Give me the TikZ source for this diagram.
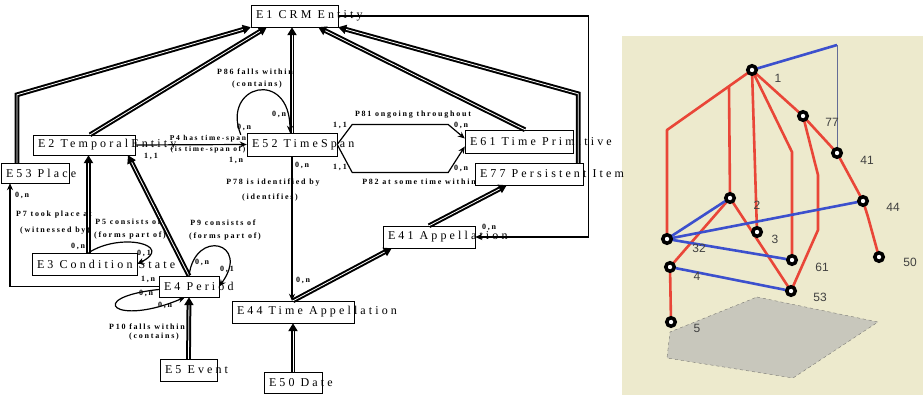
\documentclass[tikz,border=0pt]{standalone}
\usepackage{fontspec}
\setmainfont{Liberation Serif}
\newfontfamily\entfont[LetterSpace=26]{Liberation Serif}
\newfontfamily\crdfont[LetterSpace=22]{Liberation Serif}
\newfontfamily\numfont{Liberation Sans}
\usetikzlibrary{arrows.meta}
\pgfdeclarelayer{background}
\pgfsetlayers{background,main}

\definecolor{panel}{RGB}{237,234,205}
\definecolor{plane}{RGB}{200,199,188}
\definecolor{redline}{RGB}{233,70,56}
\definecolor{blueline}{RGB}{60,80,205}
\definecolor{stemline}{RGB}{100,108,150}
\newcommand{\ent}[2]{\makebox[#1][l]{#2}}

\begin{document}
\begin{tikzpicture}[x=1pt,y=-1pt,
  entity/.style={rectangle,draw,thin,inner xsep=5pt,inner ysep=0pt,minimum height=22pt,font=\entfont\fontsize{12}{13}\selectfont},
  isa/.style={double,line width=2pt,double distance=0.8pt,-{Triangle[length=8pt,width=9pt]}},
  prop/.style={line width=1.2pt,-{Stealth[length=7pt,width=6pt]}},
  card/.style={inner sep=0pt,font=\crdfont\bfseries\fontsize{8}{9}\selectfont},
  vert/.style={circle,draw=black,line width=3.5pt,fill=white,minimum size=8.5pt,inner sep=0pt},
  num/.style={inner sep=0pt,text=black!75,font=\numfont\fontsize{12}{13}\selectfont},
  redl/.style={redline,line width=2.6pt,line join=round},
  bluel/.style={blueline,line width=2.6pt}]
\useasboundingbox (0,0) rectangle (923,395);

% entities
\node[entity] (e1) at (294.5,16) {\ent{77pt}{E1 CRM Entity}};
\node[entity,minimum height=20pt] (e53) at (35,173) {\ent{58pt}{E53 Place}};
\node[entity,minimum height=20pt] (e2) at (84,145) {\ent{92pt}{E2 TemporalEntity}};
\node[entity,minimum height=23pt] (e52) at (292,144.5) {\ent{80pt}{E52 TimeSpan}};
\node[entity,minimum height=23pt] (e61) at (519,141.5) {\ent{98pt}{E61 Time Primitive}};
\node[entity] (e77) at (529,174) {\ent{98pt}{E77 Persistent Item}};
\node[entity] (e41) at (429,237) {\ent{82pt}{E41 Appellation}};
\node[entity] (e44) at (293,312) {\ent{112pt}{E44 Time Appellation}};
\node[entity,minimum height=21pt] (e50) at (293,382.5) {\ent{48pt}{E50 Date}};
\node[entity] (e5) at (188.5,370) {\ent{47pt}{E5 Event}};
\node[entity,minimum height=21pt] (e4) at (189,286.5) {\ent{50pt}{E4 Period}};
\node[entity] (e3) at (84.5,264) {\ent{95pt}{E3 Condition State}};

% is-a links
\draw[isa] ([xshift=-18pt]e53.north) -- ++(0,-68) -- (e1.south west);
\draw[isa] ([xshift=6pt]e2.north) -- ([xshift=16pt]e1.south west);
\draw[isa] (e52.north) -- (e52.north |- e1.south);
\draw[isa] ([xshift=6pt]e61.north) -- ([xshift=-20pt]e1.south east);
\draw[isa] ([xshift=-5pt]e77.north east) -- ++(0,-69) -- (e1.south east);
\draw[isa] (e4.north) -- ([xshift=44pt]e2.south);
\draw[isa] ([xshift=4pt]e3.north) -- ([xshift=4pt]e3.north |- e2.south);
\draw[isa] (e5.north) -- (e4.south);
\draw[isa] (e50.north) -- (e44.south);
\draw[isa] (e44.north) -- ([xshift=9pt]e41.south west);
\draw[isa] (e41.north) -- ([xshift=32pt]e77.south west);

% properties
\draw[prop] (e2.east) -- (e52.west);
\draw[prop] ([xshift=-6pt,yshift=-2pt]e52.north west) .. controls +(-20,-50) and +(0,-65) .. ([xshift=-2pt]e52.north);
\draw[prop] (e52.south) -- (e52.south |- e44.north);
\draw[prop] (e52.east) -- ++(15,-20) -- ++(96,0) -- ([yshift=3pt]e61.west);
\draw[prop] (e52.east) -- ++(15,28) -- ++(96,0) -- ([yshift=-5pt]e61.west);
\draw[prop] (e1.east) -- ++(250,0) |- (e41.east);
\draw[prop] (e4.west) -| ([xshift=-25pt]e53.south);
\draw[prop] ([xshift=4pt]e3.north) .. controls +(32,-21) and +(38,-19) .. (e3.east);
\draw[prop] (e4.north) .. controls +(6,-48) and +(32,-44) .. (e4.east);
\draw[prop] ([yshift=-3pt]e4.west) .. controls +(-75,8) and +(-70,30) .. ([xshift=-4pt]e4.south);

% property labels
\node[card,font=\crdfont\bfseries\fontsize{7.5}{8}\selectfont] (p4a) at (208,139) {P4 has time-span};
\node[card,font=\crdfont\bfseries\fontsize{7.5}{8}\selectfont] (p4b) at (208,150) {(is time-span of)};
\node[card] (p4c) at (151,156) {1,1};
\node[card] (p4d) at (236,160) {1,n};
\node[card] (p86a) at (255,72) {P86 falls within};
\node[card] (p86b) at (257,85) {(contains)};
\node[card] (p86c) at (279,114) {0,n};
\node[card] (p86d) at (244,127) {0,n};
\node[card] (p78a) at (273,183) {P78 is identified by};
\node[card] (p78b) at (270,198) {(identifies)};
\node[card] (p78c) at (302,165) {0,n};
\node[card] (p78d) at (303,280) {0,n};
\node[card] (p81a) at (413,115) {P81 ongoing throughout};
\node[card] (p81b) at (340,125) {1,1};
\node[card] (p81c) at (461,125) {0,n};
\node[card] (p82a) at (419,182) {P82 at some time within};
\node[card] (p82b) at (340,167) {1,1};
\node[card] (p82c) at (461,168) {0,n};
\node[card] (p1a) at (489,227) {0,n};
\node[card] (p7a) at (54,215) {P7 took place at};
\node[card] (p7b) at (55,231) {(witnessed by)};
\node[card] (p7c) at (22,195) {0,n};
\node[card] (p7d) at (148,279) {1,n};
\node[card] (p5a) at (128,222) {P5 consists of};
\node[card] (p5b) at (130,236) {(forms part of)};
\node[card] (p5c) at (78,246) {0,n};
\node[card] (p5d) at (144,253) {0,1};
\node[card] (p9a) at (223,223) {P9 consists of};
\node[card] (p9b) at (225,237) {(forms part of)};
\node[card] (p9c) at (202,262) {0,n};
\node[card] (p9d) at (227,269) {0,1};
\node[card] (p10a) at (147,327) {P10 falls within};
\node[card] (p10b) at (154,337) {(contains)};
\node[card] (p10c) at (146,293) {0,n};
\node[card] (p10d) at (165,305) {0,n};

% 3d view
\node[vert] (v1) at (752,70) {};
\node[vert] (v77) at (803,116) {};
\node[vert] (v41) at (837,153) {};
\node[vert] (v44) at (863,201) {};
\node[vert] (v50) at (879,257) {};
\node[vert] (v2) at (730,198) {};
\node[vert] (v3) at (757,232) {};
\node[vert] (v32) at (667,239) {};
\node[vert] (v61) at (792,260) {};
\node[vert] (v4) at (670,267) {};
\node[vert] (v53) at (791,291) {};
\node[vert] (v5) at (671,322) {};

\node[num] (t1) at (778,78) {1};
\node[num] (t77) at (832,122) {77};
\node[num] (t41) at (867,160) {41};
\node[num] (t44) at (893,207) {44};
\node[num] (t50) at (910,262) {50};
\node[num] (t2) at (757,205) {2};
\node[num] (t3) at (775,239) {3};
\node[num] (t32) at (699,248) {32};
\node[num] (t61) at (822,267) {61};
\node[num] (t4) at (697,276) {4};
\node[num] (t53) at (820,297) {53};
\node[num] (t5) at (697,328) {5};

\begin{pgfonlayer}{background}
\fill[panel] (622,36) rectangle (923,395);
\draw[plane!60!black,dashed,fill=plane,thin] (757,297) -- (878,322) -- (793,378) -- (667,358) -- (670,332) -- cycle;
\draw[redl] (v1.center) -- (667,130) -- (v32.center);
\draw[redl] (729,87) -- (v2.center);
\draw[redl] (v1.center) -- (v3.center);
\draw[redl] (v1.center) -- (792,152) -- (v61.center);
\draw[redl] (v1.center) -- (v77.center) -- (v41.center) -- (v44.center) -- (868,217) -- (v50.center);
\draw[redl] (v77.center) -- (818,175) -- (818,230) -- (v53.center);
\draw[redl] (v2.center) -- (v53.center);
\draw[redl] (v2.center) -- (v4.center) -- (v5.center);
\draw[bluel] (v1.center) -- (837,45);
\draw[stemline,line width=1pt] (837,45) -- (v41.center);
\draw[bluel] (v32.center) -- (v2.center);
\draw[bluel] (v32.center) -- (v44.center);
\draw[bluel] (v32.center) -- (v61.center);
\draw[bluel] (v4.center) -- (v53.center);
\end{pgfonlayer}
\end{tikzpicture}
\end{document}
